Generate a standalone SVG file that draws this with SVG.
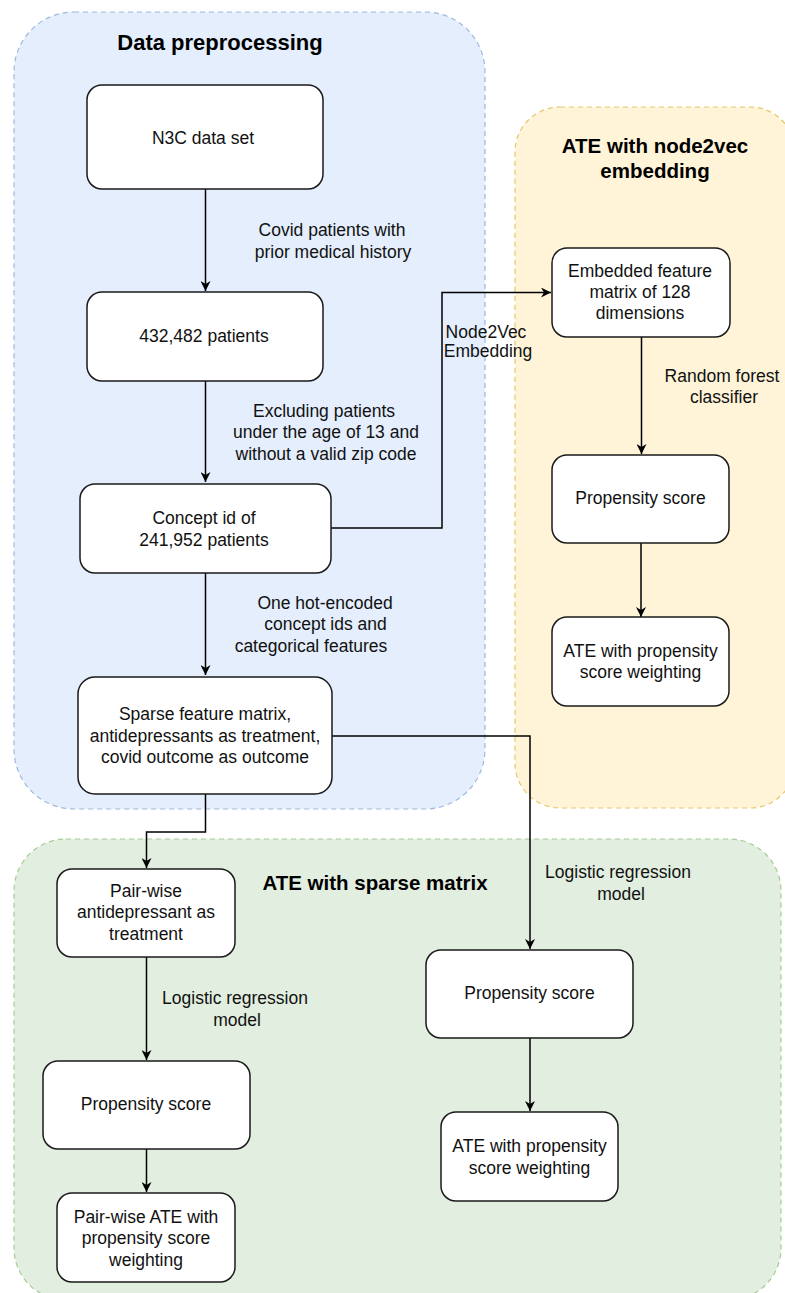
<svg xmlns="http://www.w3.org/2000/svg" width="785" height="1293" viewBox="0 0 785 1293">
<defs>
<marker id="arr" viewBox="0 0 10 10" refX="10" refY="5" markerWidth="10" markerHeight="10" markerUnits="userSpaceOnUse" orient="auto">
<path d="M0,0 L10,5 L0,10 L3,5 Z" fill="#000"/>
</marker>
<style>
.c{stroke-width:1.2;stroke-dasharray:5 4}
.n{fill:#fff;stroke:#1a1a1a;stroke-width:1.5}
.t{font-family:"Liberation Sans",Arial,sans-serif;font-size:17.5px;fill:#111;text-anchor:middle}
.l{font-family:"Liberation Sans",Arial,sans-serif;font-size:17.5px;fill:#111;text-anchor:middle}
.h{font-family:"Liberation Sans",Arial,sans-serif;font-weight:bold;fill:#000;text-anchor:middle}
.e{fill:none;stroke:#000;stroke-width:1.5;marker-end:url(#arr)}
</style>
</defs>
<rect width="785" height="1293" fill="#fff"/>
<g id="containers">
<g id="grp-preprocessing">
<rect class="c" x="14" y="12" width="471" height="797" rx="60" fill="#e4eefc" stroke="#9fb8dc"/>
<text class="h" x="220" y="50" font-size="22">Data preprocessing</text>
</g>
<g id="grp-node2vec">
<rect class="c" x="515" y="107" width="280" height="701" rx="45" fill="#fff4d8" stroke="#e6c66e"/>
<text class="h" x="655" y="153" font-size="20.5">ATE with node2vec</text>
<text class="h" x="655" y="178" font-size="20.5">embedding</text>
</g>
<g id="grp-sparse">
<rect class="c" x="14" y="839" width="767" height="461" rx="52" fill="#e2eedf" stroke="#a6cb96"/>
<text class="h" x="375" y="890" font-size="20.5">ATE with sparse matrix</text>
</g>
</g>
<g id="connectors">
<path class="e" d="M205.5,189 V291"/>
<path class="e" d="M205.5,381 V482"/>
<path class="e" d="M331,528 H442 V292.5 H551"/>
<path class="e" d="M205.5,573 V675"/>
<path class="e" d="M641.5,337 V454"/>
<path class="e" d="M641,543 V617"/>
<path class="e" d="M332,736 H530 V949"/>
<path class="e" d="M205.5,794 V832 H146.5 V868"/>
<path class="e" d="M146.5,957 V1060"/>
<path class="e" d="M146.5,1149 V1192"/>
<path class="e" d="M530,1038 V1111"/>
<text class="l" x="332" y="236">Covid patients with</text>
<text class="l" x="333" y="258">prior medical history</text>
<text class="l" x="324" y="417">Excluding patients</text>
<text class="l" x="326" y="438">under the age of 13 and</text>
<text class="l" x="326" y="460">without a valid zip code</text>
<text class="l" x="486" y="338">Node2Vec</text>
<text class="l" x="488" y="357">Embedding</text>
<text class="l" x="722" y="382">Random forest</text>
<text class="l" x="724" y="403">classifier</text>
<text class="l" x="325" y="609">One hot-encoded</text>
<text class="l" x="325.5" y="630">concept ids and</text>
<text class="l" x="311" y="652">categorical features</text>
<text class="l" x="618" y="878">Logistic regression</text>
<text class="l" x="621" y="900">model</text>
<text class="l" x="235" y="1004">Logistic regression</text>
<text class="l" x="237" y="1026">model</text>
</g>
<g id="n3c">
<rect class="n" x="87" y="85" width="236" height="104" rx="15"/>
<text class="t" x="203" y="144" font-size="20">N3C data set</text>
</g>
<g id="patients432">
<rect class="n" x="87" y="292" width="236" height="89" rx="15"/>
<text class="t" x="204" y="342">432,482 patients</text>
</g>
<g id="concept">
<rect class="n" x="80" y="484" width="251" height="89" rx="15"/>
<text class="t" x="204" y="524">Concept id of</text>
<text class="t" x="204" y="546">241,952 patients</text>
</g>
<g id="sparse">
<rect class="n" x="78" y="677" width="254" height="117" rx="17"/>
<text class="t" x="205" y="720">Sparse feature matrix,</text>
<text class="t" x="205" y="742">antidepressants as treatment,</text>
<text class="t" x="205" y="763">covid outcome as outcome</text>
</g>
<g id="embedded">
<rect class="n" x="552" y="248" width="178" height="89" rx="15"/>
<text class="t" x="640" y="277">Embedded feature</text>
<text class="t" x="640" y="298">matrix of 128</text>
<text class="t" x="640" y="319">dimensions</text>
</g>
<g id="ps-node2vec">
<rect class="n" x="552" y="455" width="177" height="88" rx="15"/>
<text class="t" x="640.5" y="504">Propensity score</text>
</g>
<g id="ate-node2vec">
<rect class="n" x="552" y="617" width="177" height="89" rx="15"/>
<text class="t" x="640.5" y="657">ATE with propensity</text>
<text class="t" x="640.5" y="678">score weighting</text>
</g>
<g id="pairwise">
<rect class="n" x="57" y="869" width="178" height="88" rx="15"/>
<text class="t" x="146" y="897">Pair-wise</text>
<text class="t" x="146" y="918">antidepressant as</text>
<text class="t" x="146" y="940">treatment</text>
</g>
<g id="ps-pairwise">
<rect class="n" x="43" y="1061" width="207" height="88" rx="15"/>
<text class="t" x="146" y="1110">Propensity score</text>
</g>
<g id="ate-pairwise">
<rect class="n" x="57" y="1193" width="178" height="89" rx="15"/>
<text class="t" x="146" y="1223">Pair-wise ATE with</text>
<text class="t" x="146" y="1244">propensity score</text>
<text class="t" x="146" y="1266">weighting</text>
</g>
<g id="ps-sparse">
<rect class="n" x="426" y="950" width="207" height="88" rx="15"/>
<text class="t" x="529.5" y="999">Propensity score</text>
</g>
<g id="ate-sparse">
<rect class="n" x="441" y="1112" width="177" height="89" rx="15"/>
<text class="t" x="529.5" y="1152">ATE with propensity</text>
<text class="t" x="529.5" y="1174">score weighting</text>
</g>
</svg>
